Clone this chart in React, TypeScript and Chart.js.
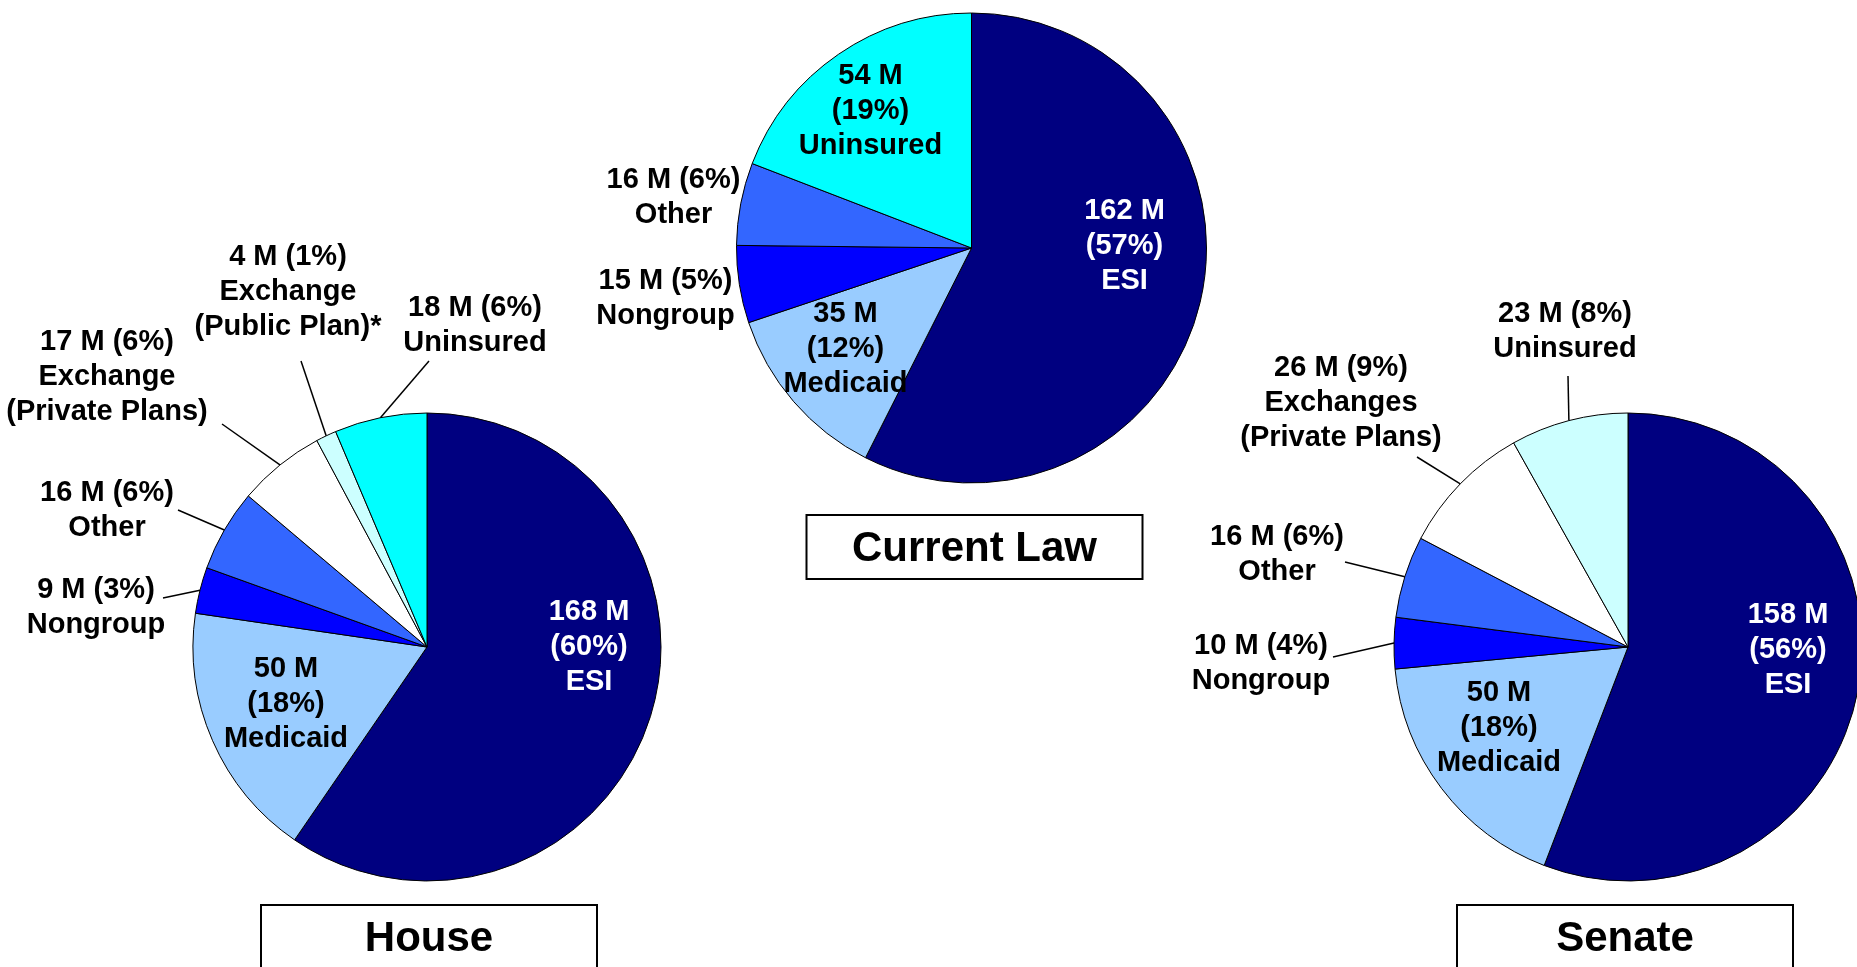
import { useEffect, useRef } from "react";
import { Chart, registerables } from "chart.js";

Chart.register(...registerables);

// Visible page area and the (slightly larger) drawing surface of each pie
const PAGE_W = 1857;
const PAGE_H = 967;
const CANVAS_W = 2000;
const CANVAS_H = 1100;

// ---- Data: coverage by source, millions of people (clockwise from 12 o'clock) ----
const houseNames = [["ESI"], ["Medicaid"], ["Nongroup"], ["Other"], ["Exchange", "(Private Plans)"], ["Exchange", "(Public Plan)*"], ["Uninsured"]];
const houseMillions = [168, 50, 9, 16, 17, 4, 18];
const housePercents = [60, 18, 3, 6, 6, 1, 6];

const currentNames = [["ESI"], ["Medicaid"], ["Nongroup"], ["Other"], ["Uninsured"]];
const currentMillions = [162, 35, 15, 16, 54];
const currentPercents = [57, 12, 5, 6, 19];

const senateNames = [["ESI"], ["Medicaid"], ["Nongroup"], ["Other"], ["Exchanges", "(Private Plans)"], ["Uninsured"]];
const senateMillions = [158, 50, 10, 16, 26, 23];
const senatePercents = [56, 18, 4, 6, 9, 8];

// ---- Colours ----
const houseColors = ["#000080", "#99CCFF", "#0000FF", "#3366FF", "#FFFFFF", "#CCFFFF", "#00FFFF"];
const currentColors = ["#000080", "#99CCFF", "#0000FF", "#3366FF", "#00FFFF"];
const senateColors = ["#000080", "#99CCFF", "#0000FF", "#3366FF", "#FFFFFF", "#CCFFFF"];

const FONT_FAMILY = '"Liberation Sans", Arial, Helvetica, sans-serif';
const LABEL_FONT = `bold 29px ${FONT_FAMILY}`;
const TITLE_FONT = `bold 42px ${FONT_FAMILY}`;
const LINE_H = 35;

// Label placement, offsets relative to the pie centre
type Place = { inside: boolean; dx: number; dy: number; leader?: [number, number]; color?: string };

type PieLayout = {
  center: [number, number];
  radius: number;
  box: [number, number]; // top-left of the title box, relative to the centre
  places: Place[];
};

const houseLayout: PieLayout = {
  center: [427, 647],
  radius: 234,
  box: [-166, 258],
  places: [
    { inside: true, dx: 162, dy: 0, color: "#FFFFFF" },
    { inside: true, dx: -141, dy: 57 },
    { inside: false, dx: -331, dy: -40, leader: [-264, -49] },
    { inside: false, dx: -320, dy: -137, leader: [-249, -137] },
    { inside: false, dx: -320, dy: -270, leader: [-205, -223] },
    { inside: false, dx: -139, dy: -355, leader: [-126, -286] },
    { inside: false, dx: 48, dy: -322, leader: [2, -286] },
  ],
};

const currentLayout: PieLayout = {
  center: [971.5, 248],
  radius: 235,
  box: [-165, 267],
  places: [
    { inside: true, dx: 153, dy: -2, color: "#FFFFFF" },
    { inside: true, dx: -126, dy: 101 },
    { inside: false, dx: -306, dy: 50 },
    { inside: false, dx: -298, dy: -51 },
    { inside: true, dx: -101, dy: -137 },
  ],
};

const senateLayout: PieLayout = {
  center: [1628, 647],
  radius: 234,
  box: [-171, 258],
  places: [
    { inside: true, dx: 160, dy: 3, color: "#FFFFFF" },
    { inside: true, dx: -129, dy: 81 },
    { inside: false, dx: -367, dy: 16, leader: [-295, 10] },
    { inside: false, dx: -351, dy: -93, leader: [-283, -85] },
    { inside: false, dx: -287, dy: -244, leader: [-211, -190] },
    { inside: false, dx: -63, dy: -316, leader: [-60, -271] },
  ],
};

type PieProps = {
  title: string;
  names: string[][];
  values: number[];
  percents: number[];
  colors: string[];
  layout: PieLayout;
};

function labelLines(place: Place, value: number, pct: number, name: string[]): string[] {
  return place.inside ? [`${value} M`, `(${pct}%)`, ...name] : [`${value} M (${pct}%)`, ...name];
}

function PieChart({ title, names, values, percents, colors, layout }: PieProps) {
  const ref = useRef<HTMLCanvasElement | null>(null);

  useEffect(() => {
    const canvas = ref.current;
    if (!canvas) return;
    const [cx, cy] = layout.center;
    const r = layout.radius;
    const m = 10;

    // Draws the value labels, leader lines and the boxed title
    const sliceLabels = {
      id: "sliceLabels",
      afterDatasetsDraw(chart: Chart) {
        const ctx = chart.ctx;
        const meta = chart.getDatasetMeta(0);
        let px = cx;
        let py = cy;
        ctx.save();
        meta.data.forEach((el: any, i: number) => {
          const p = el.getProps(["x", "y", "startAngle", "endAngle", "outerRadius"], true);
          px = p.x;
          py = p.y;
          const place = layout.places[i];
          const mid = (p.startAngle + p.endAngle) / 2;
          if (place.leader) {
            const ax = p.x + p.outerRadius * Math.cos(mid);
            const ay = p.y + p.outerRadius * Math.sin(mid);
            ctx.beginPath();
            ctx.moveTo(ax, ay);
            ctx.lineTo(p.x + place.leader[0], p.y + place.leader[1]);
            ctx.strokeStyle = "#000000";
            ctx.lineWidth = 1.5;
            ctx.stroke();
          }
          const lines = labelLines(place, values[i], percents[i], names[i]);
          ctx.font = LABEL_FONT;
          ctx.fillStyle = place.color || "#000000";
          ctx.textAlign = "center";
          ctx.textBaseline = "middle";
          lines.forEach((line, j) => {
            ctx.fillText(line, p.x + place.dx, p.y + place.dy + (j - (lines.length - 1) / 2) * LINE_H);
          });
        });

        // Title box below the pie
        const bx = px + layout.box[0];
        const by = py + layout.box[1];
        const bw = 336;
        const bh = 64;
        ctx.fillStyle = "#FFFFFF";
        ctx.fillRect(bx, by, bw, bh);
        ctx.strokeStyle = "#000000";
        ctx.lineWidth = 2;
        ctx.strokeRect(bx, by, bw, bh);
        ctx.fillStyle = "#000000";
        ctx.font = TITLE_FONT;
        ctx.textAlign = "center";
        ctx.textBaseline = "middle";
        ctx.fillText(title, bx + bw / 2, by + bh / 2 + 2);
        ctx.restore();
      },
    };

    const chart = new Chart(canvas, {
      type: "pie",
      data: {
        labels: names.map((n) => n.join(" ")),
        datasets: [
          {
            data: values,
            backgroundColor: colors,
            borderColor: "#000000",
            borderWidth: 1,
            clip: false as any,
          },
        ],
      },
      options: {
        responsive: false,
        animation: false,
        devicePixelRatio: 1,
        radius: r,
        events: [],
        layout: {
          padding: {
            left: cx - r - m,
            right: CANVAS_W - cx - r - m,
            top: cy - r - m,
            bottom: CANVAS_H - cy - r - m,
          },
        },
        plugins: {
          legend: { display: false },
          tooltip: { enabled: false },
          title: { display: false },
        },
      } as any,
      plugins: [sliceLabels as any],
    });
    return () => chart.destroy();
  }, []);

  return (
    <canvas
      ref={ref}
      width={CANVAS_W}
      height={CANVAS_H}
      style={{ position: "absolute", left: 0, top: 0, width: CANVAS_W, height: CANVAS_H }}
    />
  );
}

export default function App() {
  return (
    <div
      style={{
        position: "absolute",
        left: 0,
        top: 0,
        width: PAGE_W,
        height: PAGE_H,
        overflow: "hidden",
        background: "#FFFFFF",
      }}
    >
      <PieChart
        title="House"
        names={houseNames}
        values={houseMillions}
        percents={housePercents}
        colors={houseColors}
        layout={houseLayout}
      />
      <PieChart
        title="Current Law"
        names={currentNames}
        values={currentMillions}
        percents={currentPercents}
        colors={currentColors}
        layout={currentLayout}
      />
      <PieChart
        title="Senate"
        names={senateNames}
        values={senateMillions}
        percents={senatePercents}
        colors={senateColors}
        layout={senateLayout}
      />
    </div>
  );
}
